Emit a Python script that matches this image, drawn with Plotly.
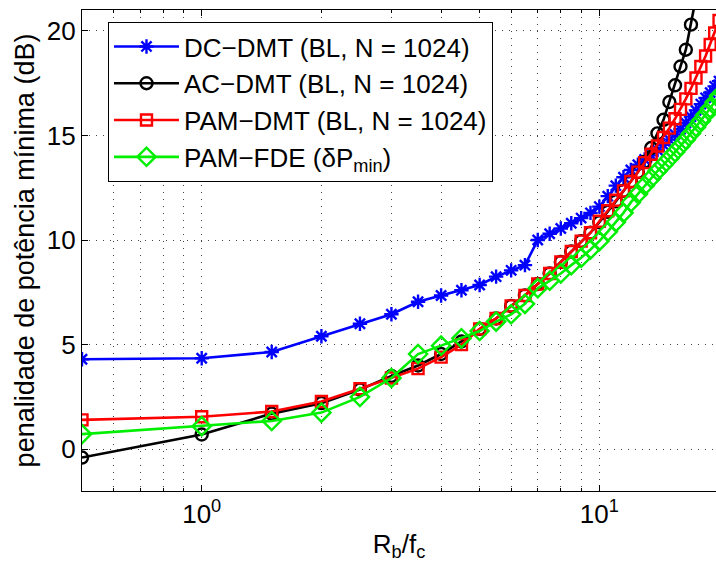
import numpy as np
import plotly.graph_objects as go

# x values (Rb/fc)
x_vals = [0.5, 1.0, 1.5, 2.0, 2.5, 3.0, 3.5, 4.0, 4.5, 5.0, 5.5, 6.0, 6.5, 7.0, 7.5,
          8.0, 8.5, 9.0, 9.5, 10.0, 10.5, 11.0, 11.5, 12.0, 12.5, 13.0, 13.5, 14.0,
          14.5, 15.0, 15.5, 16.0, 16.5, 17.0, 17.5, 18.0, 18.5, 19.0, 19.5, 20.0]

dc_dmt = [4.3, 4.35, 4.65, 5.4, 6.0, 6.45, 7.05, 7.35, 7.6, 7.85, 8.25, 8.55, 8.8, 10.0,
          10.3, 10.55, 10.8, 11.05, 11.3, 11.6, 12.1, 12.6, 13.0, 13.35, 13.6, 13.85,
          14.05, 14.3, 14.55, 14.8, 15.05, 15.3, 15.6, 15.9, 16.2, 16.5, 16.8, 17.05, 17.35, 17.6]

ac_dmt = [-0.4, 0.7, 1.7, 2.2, 2.85, 3.5, 4.0, 4.55, 5.15, 5.75, 6.25, 6.85, 7.35, 7.9,
          8.4, 8.95, 9.45, 9.95, 10.35, 10.85, 11.35, 11.85, 12.35, 12.8, 13.25, 13.75,
          14.4, 15.1, 15.75, 16.6, 17.4, 18.3, 19.1, 20.3, 21.6, 23.0]

pam_dmt = [1.4, 1.55, 1.8, 2.28, 2.89, 3.4, 3.85, 4.4, 5.0, 5.75, 6.25, 6.85, 7.35, 7.9,
           8.4, 8.95, 9.45, 9.95, 10.35, 10.9, 11.4, 11.9, 12.35, 12.8, 13.25, 13.7,
           14.1, 14.5, 14.9, 15.35, 15.8, 16.25, 16.75, 17.25, 17.75, 18.3, 18.8, 19.35,
           19.9, 20.5]

pam_fde = [0.72, 1.1, 1.35, 1.75, 2.5, 3.4, 4.55, 4.95, 5.3, 5.65, 6.1, 6.45, 6.95, 7.7,
           8.05, 8.4, 8.8, 9.15, 9.55, 9.95, 10.4, 10.85, 11.3, 11.8, 12.2, 12.6, 12.95,
           13.3, 13.6, 13.9, 14.2, 14.5, 14.8, 15.1, 15.4, 15.7, 16.0, 16.3, 16.6, 16.9]

names = ["DC−DMT (BL, N = 1024)", "AC−DMT (BL, N = 1024)",
         "PAM−DMT (BL, N = 1024)", "PAM−FDE (δP<sub>min</sub>)"]

major_x = [1, 10]
major_x_text = ["10<sup>0</sup>", "10<sup>1</sup>"]
minor_x = [0.6, 0.7, 0.8, 0.9, 2, 3, 4, 5, 6, 7, 8, 9, 20]
y_ticks = [0, 5, 10, 15, 20]

FONT = "Liberation Sans, Arial, Helvetica, sans-serif"
GRID = "#444444"
DASH = "1px,6px"

fig = go.Figure()
series = [
    (dc_dmt, "blue", "asterisk-open", 12),
    (ac_dmt, "black", "circle-open", 12),
    (pam_dmt, "red", "square-open", 11),
    (pam_fde, "#00ee00", "diamond-open", 14),
]
for (vals, col, sym, sz), nm in zip(series, names):
    fig.add_trace(go.Scatter(
        x=x_vals[:len(vals)], y=vals, name=nm, mode="lines+markers",
        line=dict(color=col, width=2.6),
        marker=dict(symbol=sym, size=sz, color=col, line=dict(color=col, width=2.4)),
    ))

x_lo = np.log10(0.5)
x_hi = np.log10(19.65)

fig.update_layout(
    width=716, height=574,
    margin=dict(l=82, r=0, t=10, b=83),
    paper_bgcolor="white", plot_bgcolor="white",
    font=dict(family=FONT, size=24, color="black"),
    showlegend=True,
    legend=dict(
        x=0.041, y=0.975, xanchor="left", yanchor="top",
        bgcolor="white", bordercolor="black", borderwidth=1,
        font=dict(family=FONT, size=26, color="black"),
        itemwidth=65, tracegroupgap=0,
    ),
    xaxis=dict(
        type="log", range=[x_lo, x_hi],
        tickmode="array", tickvals=major_x, ticktext=major_x_text,
        ticks="inside", ticklen=6, tickcolor="black",
        showline=True, linecolor="black", linewidth=1.2, mirror="ticks",
        showgrid=True, gridcolor=GRID, griddash=DASH, gridwidth=1,
        zeroline=False,
        tickfont=dict(size=26),
        minor=dict(tickmode="array", tickvals=minor_x, ticks="inside", ticklen=3,
                   tickcolor="black", showgrid=True, gridcolor=GRID, griddash=DASH,
                   gridwidth=1),
        title=dict(text="R<sub>b</sub>/f<sub>c</sub>", font=dict(size=26), standoff=6),
    ),
    yaxis=dict(
        range=[-2, 21],
        tickmode="array", tickvals=y_ticks,
        ticks="inside", ticklen=6, tickcolor="black",
        showline=True, linecolor="black", linewidth=1.2, mirror=False,
        showgrid=True, gridcolor=GRID, griddash=DASH, gridwidth=1,
        zeroline=False,
        tickfont=dict(size=26),
        title=dict(text="penalidade de potência mínima (dB)", font=dict(size=27), standoff=4),
    ),
)

fig.write_html("out.html")
